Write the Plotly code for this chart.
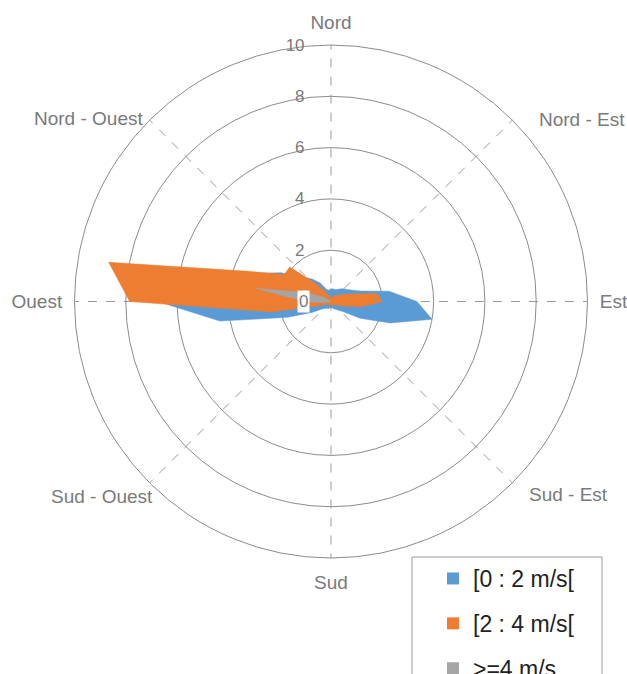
import plotly.graph_objects as go

## ----------- data ----------- ##
# wind directions in degrees (0 = Nord, clockwise), one value every 10 deg
DIRECTIONS = list(range(0, 360, 10))

# frequency (%) per direction and speed class
SPEED_0_2 = [0.5, 0.5, 0.5, 0.55, 0.65, 0.75, 0.9, 1.2, 2.3, 3.35, 4.0, 2.45,
             1.3, 0.6, 0.45, 0.35, 0.3, 0.25, 0.25, 0.25, 0.3, 0.3, 0.35, 0.45,
             0.85, 1.8, 4.4, 6.75, 6.0, 3.2, 2.25, 1.5, 1.15, 0.83, 0.5, 0.45]
SPEED_2_4 = [0.15, 0.15, 0.2, 0.25, 0.3, 0.4, 0.55, 0.85, 1.8, 2.0, 1.2, 0.5,
             0.3, 0.2, 0.15, 0.15, 0.15, 0.15, 0.15, 0.15, 0.15, 0.15, 0.15, 0.15,
             0.25, 0.45, 2.35, 7.85, 8.8, 3.45, 2.1, 2.1, 0.9, 0.45, 0.25, 0.2]
SPEED_4_PLUS = [0, 0, 0, 0, 0, 0, 0, 0, 0, 0, 0, 0,
                0, 0, 0, 0, 0, 0, 0, 0, 0, 0, 0, 0,
                0, 0, 0.3, 1.0, 3.0, 1.0, 0.35, 0, 0, 0, 0, 0]

SERIES_NAMES = ["[0 : 2 m/s[", "[2 : 4 m/s[", ">=4 m/s"]
SERIES_COLORS = ["#5B9BD5", "#ED7D31", "#A5A5A5"]

# cardinal labels go on the angular axis, the diagonal ones are placed
# by hand because Excel puts them closer in than plotly does
TICK_ANGLES = [0, 90, 180, 270]
TICK_LABELS = ["Nord", "Est", "Sud", "Ouest"]
GRID_ANGLES = [0, 45, 90, 135, 180, 225, 270, 315]
DIAGONAL_LABELS = ["Nord - Est", "Sud - Est", "Sud - Ouest", "Nord - Ouest"]
RADIAL_TICKS = [2, 4, 6, 8, 10]

FONT = "Liberation Sans, Arial, sans-serif"
GREY_TEXT = "#7a7a7a"
W, H = 627, 674


def closed(values):
    """Repeat the first point so the filled radar shape closes."""
    return list(values) + [values[0]]


fig = go.Figure()

# filled radar areas (blue at the back, grey on top, like Excel)
for name, values, color in zip(SERIES_NAMES, [SPEED_0_2, SPEED_2_4, SPEED_4_PLUS], SERIES_COLORS):
    fig.add_trace(
        go.Scatterpolar(
            r=closed(values),
            theta=closed(DIRECTIONS),
            mode="lines",
            fill="toself",
            fillcolor=color,
            line=dict(color=color, width=0.5),
            showlegend=False,
            hoverinfo="skip",
        )
    )

# legend entries drawn as square swatches
for i, (name, color) in enumerate(zip(SERIES_NAMES, SERIES_COLORS)):
    fig.add_trace(
        go.Scatterpolar(
            r=[None],
            theta=[None],
            mode="markers",
            marker=dict(symbol="square", size=12, color=color),
            name=name,
            legendgroup=f"g{i}",
        )
    )

# (pixel x, pixel y, anchor) for the diagonal direction labels
diag_pos = [(537, 119, "left"), (527, 494, "left"), (155, 496, "right"), (145, 118, "right")]
annotations = [
    dict(
        text=label,
        x=px / W,
        y=(H - py) / H,
        xref="paper",
        yref="paper",
        xanchor=anchor,
        yanchor="middle",
        showarrow=False,
        font=dict(size=19, color=GREY_TEXT),
    )
    for label, (px, py, anchor) in zip(DIAGONAL_LABELS, diag_pos)
]
# the "0" at the centre sits on a white box in the original
annotations.append(
    dict(
        text="0",
        x=0.484,
        y=0.5534,
        xref="paper",
        yref="paper",
        showarrow=False,
        bgcolor="white",
        font=dict(size=17, color=GREY_TEXT),
    )
)

fig.update_layout(
    width=W,
    height=H,
    margin=dict(l=0, r=0, t=0, b=0, autoexpand=False),
    paper_bgcolor="white",
    font=dict(family=FONT, color=GREY_TEXT),
    polar=dict(
        domain=dict(x=[0.1188, 0.9370], y=[0.1721, 0.9332]),
        bgcolor="white",
        angularaxis=dict(
            rotation=90,
            direction="clockwise",
            tickmode="array",
            tickvals=GRID_ANGLES,
            ticktext=[TICK_LABELS[TICK_ANGLES.index(a)] if a in TICK_ANGLES else "" for a in GRID_ANGLES],
            ticks="outside",
            ticklen=8,
            tickcolor="rgba(0,0,0,0)",
            showgrid=True,
            gridcolor="#9a9a9a",
            griddash="dash",
            gridwidth=1,
            showline=True,
            linecolor="#8c8c8c",
            linewidth=1,
            tickfont=dict(size=19, color=GREY_TEXT),
        ),
        radialaxis=dict(
            range=[0, 10],
            angle=90,
            side="counterclockwise",
            tickmode="array",
            tickvals=RADIAL_TICKS,
            ticks="outside",
            ticklen=20,
            tickcolor="rgba(0,0,0,0)",
            showline=False,
            gridcolor="#8c8c8c",
            gridwidth=1,
            tickangle=90,
            tickfont=dict(size=17, color=GREY_TEXT),
        ),
    ),
    legend=dict(
        x=433 / W,
        y=(H - 557) / H,
        xanchor="left",
        yanchor="top",
        bgcolor="rgba(0,0,0,0)",
        borderwidth=0,
        font=dict(size=23, color="#222222"),
        tracegroupgap=12,
        itemwidth=30,
    ),
    # legend frame (Excel draws a wider box than plotly would)
    shapes=[
        dict(
            type="rect",
            xref="paper",
            yref="paper",
            x0=412 / W,
            x1=602 / W,
            y0=-0.05,
            y1=(H - 557) / H,
            line=dict(color="#9a9a9a", width=1),
            fillcolor="white",
            layer="above",
        )
    ],
    annotations=annotations,
)

fig.write_html(
    "out.html",
    config={"displayModeBar": False},
    post_script="document.body.style.margin='0px';",
)
